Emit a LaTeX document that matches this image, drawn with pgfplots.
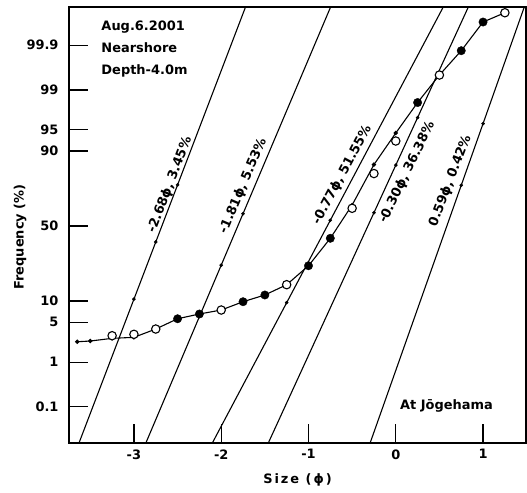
\documentclass[border=0pt]{standalone}
\usepackage{fontspec}
\setmainfont{DejaVu Sans}
\usepackage{pgfplots}
\pgfplotsset{compat=1.18}
\newcommand\lab{\fontsize{13}{15.6}\selectfont\bfseries}
\newcommand\labsp{\fontsize{13}{15.6}\selectfont\bfseries\addfontfeatures{LetterSpace=15}}

% probability scale: y is the normal quantile z of the cumulative frequency
\pgfplotstableread{
x z
-3.65 -1.978
-3.50 -1.966
-3.25 -1.920
-3.00 -1.903
-2.75 -1.761
-2.50 -1.585
-2.25 -1.504
-2.00 -1.436
-1.75 -1.294
-1.50 -1.179
-1.25 -1.003
-1.00 -0.679
-0.75 -0.210
-0.50 0.359
-0.25 1.050
0.00 1.590
0.25 2.111
0.50 2.581
0.75 2.997
1.00 3.487
1.25 3.646
}\composite

\pgfplotstableread{
x z
-3.25 -1.875
-3.00 -1.851
-2.75 -1.761
-2.00 -1.436
-1.25 -1.003
-0.50 0.303
-0.25 0.897
0.00 1.453
0.50 2.581
1.25 3.646
}\opendata

\pgfplotstableread{
x z
-2.50 -1.585
-2.25 -1.504
-1.75 -1.294
-1.50 -1.179
-1.00 -0.679
-0.75 -0.210
0.25 2.111
0.75 2.997
1.00 3.487
}\filldata

\begin{document}
\begin{tikzpicture}
\begin{axis}[
  name=main,
  scale only axis,
  width=457bp, height=436bp,
  xmin=-3.744, xmax=1.492,
  ymin=-3.709, ymax=3.744,
  axis line style={line width=1.3bp},
  tick align=inside,
  tick pos=left,
  major tick length=19bp,
  tick style={line width=1.2bp, black},
  xtick={-3,-2,-1,0,1},
  xticklabels={-3,-2,-1,0,1},
  ytick={-3.0902,-2.3263,-1.6449,-1.2816,0,1.2816,1.6449,2.3263,3.0902},
  yticklabels={0.1,1,5,10,50,90,95,99,99.9},
  ticklabel style={font=\lab},
  yticklabel style={xshift=-7bp},
  xticklabel style={yshift=-3bp},
  xlabel={Size (ϕ)},
  ylabel={Frequency (\%)},
  xlabel style={font=\labsp, at={(axis description cs:0.5,-0.0849)}, anchor=center},
  ylabel style={font=\lab, at={(axis description cs:-0.1072,0.4725)}, anchor=center},
  every axis plot/.append style={black},
]
% component lines
\addplot[no markers, line width=1.1bp] coordinates {(-3.704,-4) (-1.656,4)};
\addplot[no markers, line width=1.1bp] coordinates {(-2.946,-4) (-0.674,4)};
\addplot[no markers, line width=1.1bp] coordinates {(-2.205,-4) (0.635,4)};
\addplot[no markers, line width=1.1bp] coordinates {(-1.550,-4) (0.910,4)};
\addplot[no markers, line width=1.1bp] coordinates {(-0.363,-4) (1.533,4)};
\addplot[only marks, mark=*, mark size=1.6bp] coordinates {
  (-3,-1.25) (-2.75,-0.273) (-2.5,0.703)
  (-2,-0.669) (-1.75,0.211)
  (-1.25,-1.310) (-0.75,0.099)
  (-0.25,0.228) (0,1.041) (0.25,1.854)
  (0.75,0.696) (1,1.751)};
% composite curve and observations
\addplot[line width=1.1bp, mark=*, mark size=1.6bp] table {\composite};
\addplot[only marks, mark=*, mark size=4.2bp, mark options={fill=white, draw=black, line width=1.1bp}] table {\opendata};
\addplot[only marks, mark=*, mark size=4.2bp, mark options={fill=black, draw=black}] table {\filldata};

\node[rotate=69, font=\lab] at (axis cs:-2.588,0.70) {-2.68ϕ, 3.45\%};
\node[rotate=67, font=\lab] at (axis cs:-1.749,0.687) {-1.81ϕ, 5.53\%};
\node[rotate=62, font=\lab] at (axis cs:-0.614,0.872) {-0.77ϕ, 51.55\%};
\node[rotate=64, font=\lab] at (axis cs:0.129,0.915) {-0.30ϕ, 36.38\%};
\node[rotate=69, font=\lab] at (axis cs:0.625,0.773) {0.59ϕ, 0.42\%};

\node[anchor=base west, font=\lab] at (axis cs:-3.412,3.350) {Aug.6.2001};
\node[anchor=base west, font=\lab] at (axis cs:-3.412,2.974) {Nearshore};
\node[anchor=base west, font=\lab] at (axis cs:-3.412,2.598) {Depth-4.0m};
\node[anchor=base west, font=\lab] at (axis cs:0.009,-3.128) {At Jōgehama};
\end{axis}
\pgfresetboundingbox
\path[use as bounding box] ([xshift=-69bp,yshift=-50bp]main.south west) rectangle ([xshift=1bp,yshift=7bp]main.north east);
\end{tikzpicture}
\end{document}
